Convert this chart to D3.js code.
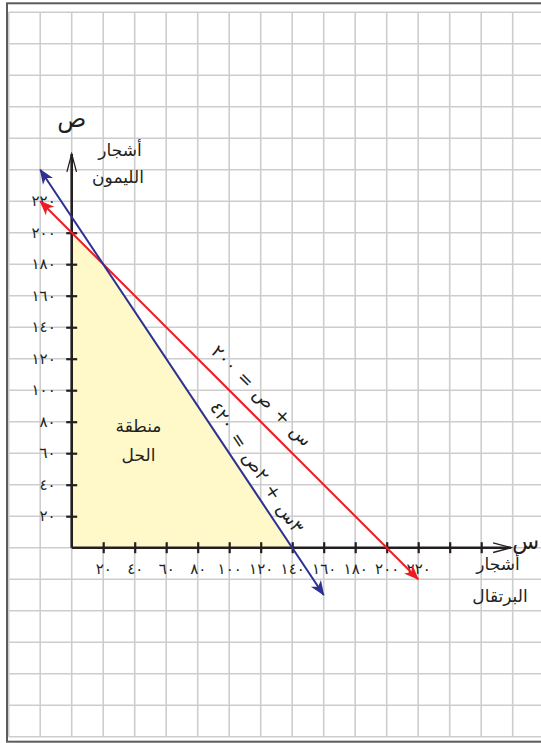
<!DOCTYPE html>
<html>
<head>
<meta charset="utf-8">
<script src="https://cdn.jsdelivr.net/npm/d3@7"></script>
<style>
  html, body { margin: 0; padding: 0; background: #ffffff; }
  svg { display: block; }
</style>
</head>
<body>
<script>
// Orange trees (س) and lemon trees (ص): feasible region of
// س + ص ≤ ٢٠٠ and ٣س + ٢ص ≤ ٤٢٠ with both counts non-negative.

const xTickValues = [20, 40, 60, 80, 100, 120, 140, 160, 180, 200, 220, 240, 260];
const xTickLabels = ["٢٠", "٤٠", "٦٠", "٨٠", "١٠٠", "١٢٠", "١٤٠", "١٦٠", "١٨٠", "٢٠٠", "٢٢٠"];
const yTickValues = [20, 40, 60, 80, 100, 120, 140, 160, 180, 200];
const yLabelValues = [20, 40, 60, 80, 100, 120, 140, 160, 180, 200, 220];
const yTickLabels = ["٢٠", "٤٠", "٦٠", "٨٠", "١٠٠", "١٢٠", "١٤٠", "١٦٠", "١٨٠", "٢٠٠", "٢٢٠"];

// Constraint lines a·س + b·ص = c
const lineA = [1, 3];
const lineB = [1, 2];
const lineC = [200, 420];
const lineFrom = [-20, -20];   // س at the upper-left arrow
const lineTo = [220, 160];     // س at the lower-right arrow
const lineLabels = ["س + ص = ٢٠٠", "٣س + ٢ص = ٤٢٠"];
const lineLabelAt = [112, 109.5];

// Corners of the solution region
const regionVertices = [[0, 0], [0, 200], [20, 180], [140, 0]];

const W = 541, H = 743;
const ink = "#231f20";
const lineColors = ["#ed1c24", "#2e3192"];
const arabicFont = "'DejaVu Sans', 'Noto Sans', sans-serif";

const x = d3.scaleLinear().domain([0, 280]).range([71.7, 512.7]);
const y = d3.scaleLinear().domain([0, 340]).range([547.7, 12.2]);

const svg = d3.select("body").append("svg")
  .attr("width", W).attr("height", H)
  .attr("viewBox", `0 0 ${W} ${H}`);

// graph-paper grid
const grid = svg.append("g").attr("stroke", "#cdcdcd").attr("stroke-width", 1.6);
grid.selectAll("line.v").data(d3.range(-40, 281, 20)).join("line")
  .attr("class", "v")
  .attr("x1", d => x(d)).attr("x2", d => x(d))
  .attr("y1", y(340)).attr("y2", y(-120));
grid.selectAll("line.h").data(d3.range(-120, 341, 20)).join("line")
  .attr("class", "h")
  .attr("y1", d => y(d)).attr("y2", d => y(d))
  .attr("x1", x(-40)).attr("x2", W);

// page frame
svg.append("rect")
  .attr("x", 7).attr("y", 3.3).attr("width", 600).attr("height", 738.4)
  .attr("fill", "none").attr("stroke", "#5c5c5c").attr("stroke-width", 2);

// solution region
svg.append("path")
  .datum(regionVertices)
  .attr("d", d3.line().x(d => x(d[0])).y(d => y(d[1])).curve(d3.curveLinearClosed))
  .attr("fill", "#fff8c9")
  .attr("stroke", "none");

// markers
const defs = svg.append("defs");
lineColors.forEach((c, i) => {
  defs.append("marker")
    .attr("id", "arrow" + i)
    .attr("markerUnits", "userSpaceOnUse")
    .attr("viewBox", "-16 -8 18 16")
    .attr("refX", 0).attr("refY", 0)
    .attr("markerWidth", 18).attr("markerHeight", 16)
    .attr("orient", "auto-start-reverse")
    .append("path")
    .attr("d", "M1,0 L-14,-6 L-10,0 L-14,6 Z")
    .attr("fill", c);
});
defs.append("marker")
  .attr("id", "axisArrow")
  .attr("markerUnits", "userSpaceOnUse")
  .attr("viewBox", "-22 -8 24 16")
  .attr("refX", 0).attr("refY", 0)
  .attr("markerWidth", 24).attr("markerHeight", 16)
  .attr("orient", "auto")
  .append("path")
  .attr("d", "M-18,-4.8 L0,0 L-18,4.8")
  .attr("fill", "none").attr("stroke", ink).attr("stroke-width", 1.3);

// axes
svg.append("line")
  .attr("x1", x(0)).attr("y1", y(0)).attr("x2", x(279)).attr("y2", y(0))
  .attr("stroke", ink).attr("stroke-width", 2.6)
  .attr("marker-end", "url(#axisArrow)");
svg.append("line")
  .attr("x1", x(0)).attr("y1", y(0)).attr("x2", x(0)).attr("y2", y(250))
  .attr("stroke", ink).attr("stroke-width", 2.6)
  .attr("marker-end", "url(#axisArrow)");

const xAxis = svg.append("g")
  .attr("transform", `translate(0,${y(0)})`)
  .call(d3.axisBottom(x).tickValues(xTickValues).tickSizeOuter(0)
    .tickFormat((d, i) => xTickLabels[i] || ""));
xAxis.select(".domain").remove();
xAxis.selectAll(".tick line")
  .attr("y1", -5.5).attr("y2", 5.5)
  .attr("stroke", ink).attr("stroke-width", 2.2);
xAxis.selectAll(".tick text")
  .attr("y", 26).attr("dy", 0)
  .attr("fill", ink)
  .style("font-family", arabicFont).style("font-size", "15px");

const yAxisTicks = svg.append("g")
  .attr("transform", `translate(${x(0)},0)`)
  .call(d3.axisLeft(y).tickValues(yTickValues).tickSizeOuter(0).tickFormat(""));
yAxisTicks.select(".domain").remove();
yAxisTicks.selectAll(".tick line")
  .attr("x1", -5.5).attr("x2", 5.5)
  .attr("stroke", ink).attr("stroke-width", 2.2);

svg.append("g").selectAll("text").data(yLabelValues).join("text")
  .attr("x", x(0) - 16)
  .attr("y", d => y(d))
  .attr("dy", "0.35em")
  .attr("text-anchor", "end")
  .attr("fill", ink)
  .style("font-family", arabicFont).style("font-size", "15px")
  .text((d, i) => yTickLabels[i]);

// constraint lines with their equations
lineA.forEach((a, i) => {
  const f = s => (lineC[i] - a * s) / lineB[i];
  const x1 = x(lineFrom[i]), y1 = y(f(lineFrom[i]));
  const x2 = x(lineTo[i]), y2 = y(f(lineTo[i]));
  svg.append("line")
    .attr("x1", x1).attr("y1", y1).attr("x2", x2).attr("y2", y2)
    .attr("stroke", lineColors[i]).attr("stroke-width", 2)
    .attr("marker-start", `url(#arrow${i})`)
    .attr("marker-end", `url(#arrow${i})`);

  const angle = Math.atan2(y2 - y1, x2 - x1) * 180 / Math.PI;
  const px = x(lineLabelAt[i]), py = y(f(lineLabelAt[i]));
  svg.append("text")
    .attr("transform", `translate(${px},${py}) rotate(${angle})`)
    .attr("y", i === 0 ? -13 : -9)
    .attr("text-anchor", "middle")
    .attr("direction", "rtl")
    .attr("fill", ink)
    .style("font-family", arabicFont).style("font-size", "18px")
    .style("word-spacing", "2px")
    .text(lineLabels[i]);
});

// axis names and region label
const labels = svg.append("g")
  .attr("fill", ink)
  .style("font-family", arabicFont)
  .attr("text-anchor", "middle");

labels.append("text").attr("x", x(0)).attr("y", 127)
  .style("font-size", "24px").text("ص");
labels.append("text").attr("x", 120).attr("y", 156)
  .style("font-size", "17px").text("أشجار");
labels.append("text").attr("x", 118).attr("y", 183)
  .style("font-size", "17px").text("الليمون");

labels.append("text").attr("x", 539).attr("y", 549)
  .attr("text-anchor", "end")
  .style("font-size", "22px").text("س");
labels.append("text").attr("x", 498).attr("y", 570)
  .style("font-size", "17px").text("أشجار");
labels.append("text").attr("x", 500).attr("y", 602)
  .style("font-size", "17px").text("البرتقال");

labels.append("text").attr("x", 138.5).attr("y", 432)
  .style("font-size", "17px").text("منطقة");
labels.append("text").attr("x", 138.5).attr("y", 461)
  .style("font-size", "17px").text("الحل");
</script>
</body>
</html>
